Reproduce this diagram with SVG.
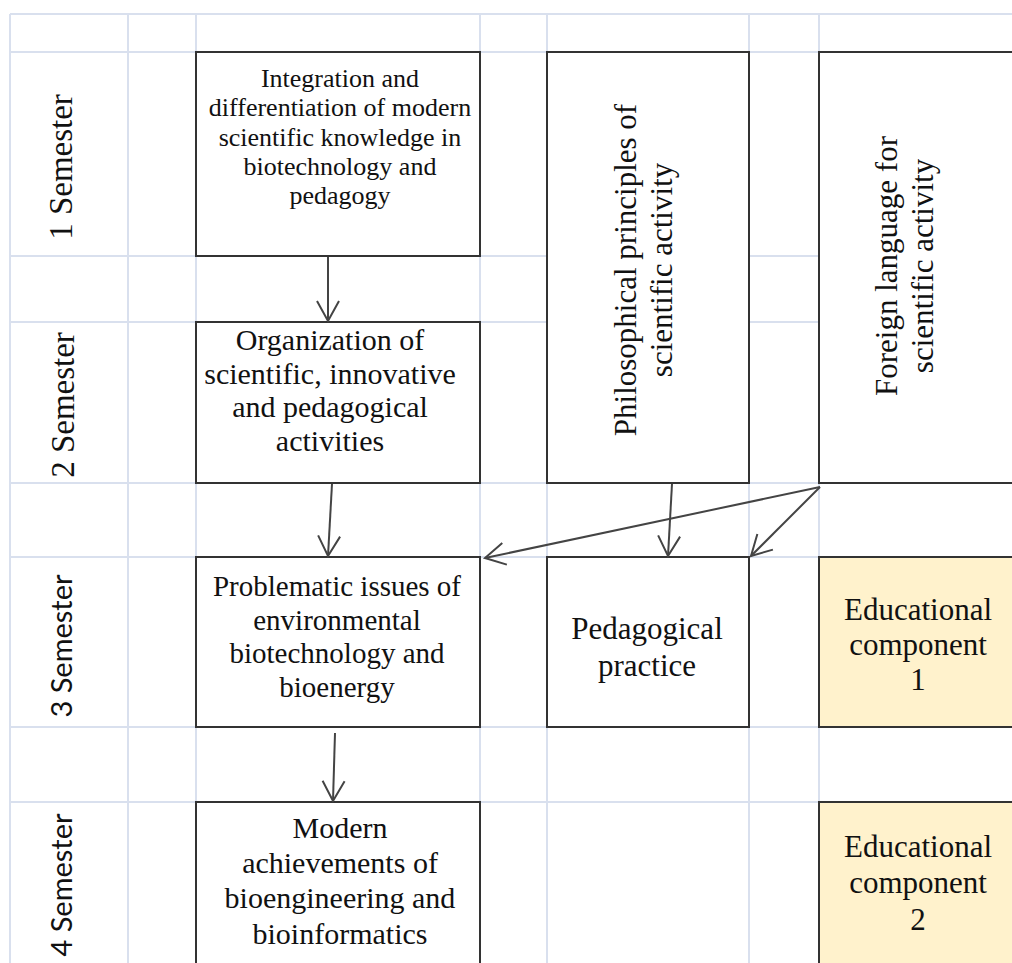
<svg xmlns="http://www.w3.org/2000/svg" width="1012" height="963" viewBox="0 0 1012 963">
<style>
.grid line{stroke:#d9e0ee;stroke-width:2}
.box{fill:#ffffff;stroke:#333333;stroke-width:2}
.edu{fill:#fff2cc;stroke:#333333;stroke-width:2}
.t{font-family:"Liberation Serif","Times New Roman",serif;fill:#111111;text-anchor:middle}
.s{font-family:Lato,"Open Sans",sans-serif;fill:#111111;text-anchor:middle}
.conn line{stroke:#444444;stroke-width:2;marker-end:url(#arr)}
</style>
<defs>
<marker id="arr" markerUnits="userSpaceOnUse" markerWidth="24" markerHeight="24" refX="0" refY="0" orient="auto" overflow="visible">
<path d="M-20,-11 L0,0 L-20,11" fill="none" stroke="#444444" stroke-width="2"/>
</marker>
</defs>
<rect x="0" y="0" width="1012" height="963" fill="#ffffff"/>
<g class="grid">
<line x1="10" y1="14" x2="1012" y2="14"/>
<line x1="10" y1="52" x2="1012" y2="52"/>
<line x1="10" y1="256" x2="1012" y2="256"/>
<line x1="10" y1="322" x2="1012" y2="322"/>
<line x1="10" y1="483" x2="1012" y2="483"/>
<line x1="10" y1="557" x2="1012" y2="557"/>
<line x1="10" y1="727" x2="1012" y2="727"/>
<line x1="10" y1="802" x2="1012" y2="802"/>
<line x1="10" y1="14" x2="10" y2="963"/>
<line x1="128" y1="14" x2="128" y2="963"/>
<line x1="196" y1="14" x2="196" y2="963"/>
<line x1="480" y1="14" x2="480" y2="963"/>
<line x1="547" y1="14" x2="547" y2="963"/>
<line x1="749" y1="14" x2="749" y2="963"/>
<line x1="819" y1="14" x2="819" y2="963"/>
</g>
<g id="sem1"><text class="t" font-size="33" transform="translate(72,167) rotate(-90)">1 Semester</text></g>
<g id="sem2"><text class="t" font-size="33" transform="translate(74,405) rotate(-90)">2 Semester</text></g>
<g id="sem3"><text class="s" font-size="29" transform="translate(72,646) rotate(-90)">3 Semester</text></g>
<g id="sem4"><text class="s" font-size="29" transform="translate(72,885) rotate(-90)">4 Semester</text></g>
<g id="integration">
<rect class="box" x="196" y="52" width="284" height="204"/>
<text class="t" font-size="26" x="340"><tspan x="340" y="87">Integration and</tspan><tspan x="340" y="116">differentiation of modern</tspan><tspan x="340" y="146">scientific knowledge in</tspan><tspan x="340" y="175">biotechnology and</tspan><tspan x="340" y="204">pedagogy</tspan></text>
</g>
<g id="organization">
<rect class="box" x="196" y="322" width="284" height="161"/>
<text class="t" font-size="30"><tspan x="330" y="350">Organization of</tspan><tspan x="330" y="384">scientific, innovative</tspan><tspan x="330" y="417">and pedagogical</tspan><tspan x="330" y="451">activities</tspan></text>
</g>
<g id="problematic">
<rect class="box" x="196" y="557" width="284" height="170"/>
<text class="t" font-size="29"><tspan x="337" y="596">Problematic issues of</tspan><tspan x="337" y="630">environmental</tspan><tspan x="337" y="663">biotechnology and</tspan><tspan x="337" y="697">bioenergy</tspan></text>
</g>
<g id="modern">
<rect class="box" x="196" y="802" width="284" height="175"/>
<text class="t" font-size="30"><tspan x="340" y="838">Modern</tspan><tspan x="340" y="873">achievements of</tspan><tspan x="340" y="908">bioengineering and</tspan><tspan x="340" y="944">bioinformatics</tspan></text>
</g>
<g id="philosophical">
<rect class="box" x="547" y="52" width="202" height="431"/>
<text class="t" font-size="31" transform="translate(636,270) rotate(-90)"><tspan x="0" y="0">Philosophical principles of</tspan><tspan x="0" y="36">scientific activity</tspan></text>
</g>
<g id="foreign">
<rect class="box" x="819" y="52" width="210" height="431"/>
<text class="t" font-size="31" transform="translate(897,266) rotate(-90)"><tspan x="0" y="0">Foreign language for</tspan><tspan x="0" y="36">scientific activity</tspan></text>
</g>
<g id="pedagogical">
<rect class="box" x="547" y="557" width="202" height="170"/>
<text class="t" font-size="31"><tspan x="647" y="639">Pedagogical</tspan><tspan x="647" y="676">practice</tspan></text>
</g>
<g id="edu1">
<rect class="edu" x="819" y="557" width="210" height="170"/>
<text class="t" font-size="31"><tspan x="918" y="620">Educational</tspan><tspan x="918" y="655">component</tspan><tspan x="918" y="690">1</tspan></text>
</g>
<g id="edu2">
<rect class="edu" x="819" y="802" width="210" height="175"/>
<text class="t" font-size="31"><tspan x="918" y="857">Educational</tspan><tspan x="918" y="893">component</tspan><tspan x="918" y="930">2</tspan></text>
</g>
<g class="conn" id="connectors">
<line x1="328" y1="257" x2="328" y2="321"/>
<line x1="332" y1="484" x2="328" y2="556"/>
<line x1="335" y1="733" x2="333" y2="801"/>
<line x1="672" y1="484" x2="668" y2="556"/>
<line x1="820" y1="487" x2="751" y2="556"/>
<line x1="820" y1="487" x2="485" y2="558"/>
</g>
</svg>
